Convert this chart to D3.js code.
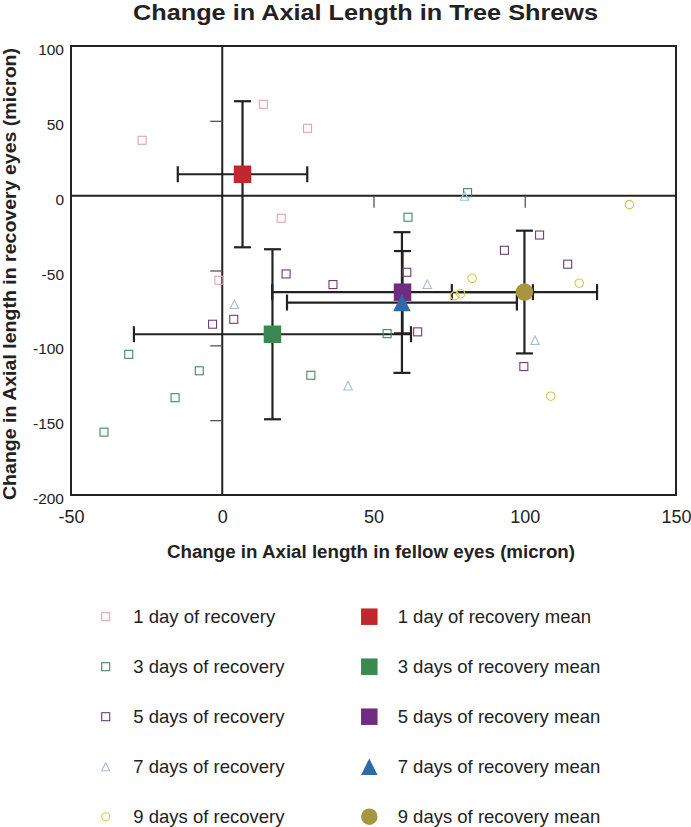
<!DOCTYPE html>
<html><head><meta charset="utf-8">
<script src="https://cdn.jsdelivr.net/npm/d3@7"></script>
<style>body{margin:0;background:#fff} svg{display:block}</style>
</head><body>
<svg id="chart" width="691" height="827"></svg>
<script>
// ---------- data ----------
const seriesNames = ["1 day of recovery","3 days of recovery","5 days of recovery","7 days of recovery","9 days of recovery"];
const meanNames = ["1 day of recovery mean","3 days of recovery mean","5 days of recovery mean","7 days of recovery mean","9 days of recovery mean"];
const day1X = [13.6, 28.2, -26.5, 19.5, -1.1];
const day1Y = [61, 45, 37, -15.1, -56.5];
const day3X = [81.1, 61.4, -30.9, -7.6, -15.6, -39.1, 29.3, 54.5];
const day3Y = [2, -14.4, -106, -117, -135, -158, -120, -92.2];
const day5X = [21.1, 36.6, -3.2, 3.8, 61, 64.6, 104.9, 93.3, 114.2, 99.7];
const day5Y = [-52.3, -59.4, -85.9, -82.6, -51.2, -91, -26.3, -36.5, -45.8, -114.2];
const day7X = [80.1, 4, 41.6, 67.8, 103.4];
const day7Y = [-0.2, -72.6, -127, -59.2, -96.6];
const day9X = [134.6, 82.6, 118, 76.9, 78.8, 108.6];
const day9Y = [-6, -55.2, -58.5, -66.8, -65.5, -134];
const meanX = [6.7, 16.6, 59.6, 59.4, 99.9];
const meanY = [14.3, -92.6, -64.5, -71.4, -64.4];
const errX = [21.4, 45.8, 43.1, 38.0, 24.0];
const errY = [48.8, 56.8, 27.5, 47.0, 41.0];
const xTicks = [-50, 0, 50, 100, 150];
const yTicks = [100, 50, 0, -50, -100, -150, -200];
const innerYTicks = [50, -50, -100, -150];
const innerXTicks = [50, 100];

// ---------- styles ----------
const pointColors = ["#e2a4ae", "#3f8a5c", "#6c3d7c", "#a9badb", "#d6c94c"];
const meanColors  = ["#c1272d", "#3a8a4f", "#6f2c80", "#2c6aa8", "#a89540"];
const shapes = ["square", "square", "square", "triangle", "circle"];
const seriesX = [day1X, day3X, day5X, day7X, day9X];
const seriesY = [day1Y, day3Y, day5Y, day7Y, day9Y];
const font = "Liberation Sans, Arial, Helvetica, sans-serif";
const fmt = d => String(d);

const svg = d3.select("#chart");
svg.append("rect").attr("width", 691).attr("height", 827).attr("fill", "#fff");

const x = d3.scaleLinear().domain([-50, 150]).range([71, 676]);
const y = d3.scaleLinear().domain([-200, 100]).range([495, 46]);
const ink = "#222";

function marker(g, shape, size, fill, stroke, sw) {
  const h = size / 2;
  let el;
  if (shape === "square") {
    el = g.append("rect").attr("x", -h).attr("y", -h).attr("width", size).attr("height", size);
  } else if (shape === "circle") {
    el = g.append("circle").attr("r", h);
  } else {
    el = g.append("path").attr("d", `M0,${-h}L${h},${h}L${-h},${h}Z`);
  }
  el.attr("fill", fill).attr("stroke", stroke).attr("stroke-width", sw);
  return el;
}

// frame
svg.append("rect").attr("x", x(-50)).attr("y", y(100))
  .attr("width", x(150) - x(-50)).attr("height", y(-200) - y(100))
  .attr("fill", "none").attr("stroke", ink).attr("stroke-width", 2);

// zero lines
svg.append("line").attr("x1", x(0)).attr("x2", x(0)).attr("y1", y(100)).attr("y2", y(-200))
  .attr("stroke", ink).attr("stroke-width", 2);
svg.append("line").attr("x1", x(-50)).attr("x2", x(150)).attr("y1", y(0)).attr("y2", y(0))
  .attr("stroke", ink).attr("stroke-width", 2);

// inner ticks on the zero lines
const innerY = svg.append("g").attr("transform", `translate(${x(0)},0)`)
  .call(d3.axisLeft(y).tickValues(innerYTicks).tickSize(12).tickFormat(""));
innerY.select(".domain").remove();
innerY.selectAll("line").attr("stroke", "#555").attr("stroke-width", 1.3);
const innerX = svg.append("g").attr("transform", `translate(0,${y(0)})`)
  .call(d3.axisBottom(x).tickValues(innerXTicks).tickSize(12).tickFormat(""));
innerX.select(".domain").remove();
innerX.selectAll("line").attr("stroke", "#555").attr("stroke-width", 1.3);

// tick labels
const yAx = svg.append("g").attr("transform", `translate(${x(-50)},0)`)
  .call(d3.axisLeft(y).tickValues(yTicks).tickSize(0).tickPadding(7).tickFormat(fmt));
yAx.select(".domain").remove();
yAx.selectAll("text").attr("font-family", font)
  .attr("font-size", 15.5).attr("fill", ink).attr("dy", "0.55em");
const xAx = svg.append("g").attr("transform", `translate(0,${y(-200)})`)
  .call(d3.axisBottom(x).tickValues(xTicks).tickSize(0).tickPadding(15).tickFormat(fmt));
xAx.select(".domain").remove();
xAx.selectAll("text").attr("font-family", font)
  .attr("font-size", 18).attr("fill", ink);

// titles
svg.append("text").attr("x", 365.5).attr("y", 20).attr("text-anchor", "middle")
  .attr("font-family", font).attr("font-weight", "bold")
  .attr("font-size", 22).attr("fill", ink)
  .attr("textLength", 465).attr("lengthAdjust", "spacingAndGlyphs")
  .text("Change in Axial Length in Tree Shrews");
svg.append("text").attr("x", 371).attr("y", 558).attr("text-anchor", "middle")
  .attr("font-family", font).attr("font-weight", "bold")
  .attr("font-size", 18.7).attr("fill", ink)
  .attr("textLength", 408).attr("lengthAdjust", "spacingAndGlyphs")
  .text("Change in Axial length in fellow eyes (micron)");
svg.append("text").attr("transform", "translate(16,274) rotate(-90)").attr("text-anchor", "middle")
  .attr("font-family", font).attr("font-weight", "bold")
  .attr("font-size", 18).attr("fill", ink)
  .attr("textLength", 452).attr("lengthAdjust", "spacingAndGlyphs")
  .text("Change in Axial length in recovery eyes (micron)");

// error bars
const eb = svg.append("g").attr("stroke", ink).attr("stroke-width", 2.2).attr("fill", "none");
meanX.forEach((mx, i) => {
  const my = meanY[i];
  const cx = x(mx), cy = y(my);
  const x0 = x(mx - errX[i]), x1 = x(mx + errX[i]);
  const y0 = y(my + errY[i]), y1 = y(my - errY[i]);
  eb.append("line").attr("x1", x0).attr("x2", x1).attr("y1", cy).attr("y2", cy);
  eb.append("line").attr("x1", x0).attr("x2", x0).attr("y1", cy - 8).attr("y2", cy + 8);
  eb.append("line").attr("x1", x1).attr("x2", x1).attr("y1", cy - 8).attr("y2", cy + 8);
  eb.append("line").attr("x1", cx).attr("x2", cx).attr("y1", y0).attr("y2", y1);
  eb.append("line").attr("x1", cx - 8.5).attr("x2", cx + 8.5).attr("y1", y0).attr("y2", y0);
  eb.append("line").attr("x1", cx - 8.5).attr("x2", cx + 8.5).attr("y1", y1).attr("y2", y1);
});

// individual points
seriesX.forEach((xs, s) => {
  const g = svg.append("g");
  xs.forEach((vx, k) => {
    const m = g.append("g").attr("transform", `translate(${x(vx)},${y(seriesY[s][k])})`);
    marker(m, shapes[s], shapes[s] === "square" ? 8 : 8.5, "none", pointColors[s], 1.1);
  });
});

// means
meanX.forEach((mx, i) => {
  const m = svg.append("g").attr("transform", `translate(${x(mx)},${y(meanY[i])})`);
  marker(m, shapes[i], 17.5, meanColors[i], "none", 0);
});

// legend
const legRows = [616.7, 666.7, 716.7, 766.7, 816.7];
seriesNames.forEach((name, i) => {
  const g = svg.append("g").attr("transform", `translate(105.7,${legRows[i]})`);
  marker(g, shapes[i], 8, "none", pointColors[i], 1.1);
  svg.append("text").attr("x", 133.3).attr("y", legRows[i]).attr("dy", "0.35em")
    .attr("font-family", font)
    .attr("font-size", 18.5).attr("fill", ink).text(name);
});
meanNames.forEach((name, i) => {
  const g = svg.append("g").attr("transform", `translate(369.3,${legRows[i]})`);
  marker(g, shapes[i], 16.5, meanColors[i], "none", 0);
  svg.append("text").attr("x", 397.7).attr("y", legRows[i]).attr("dy", "0.35em")
    .attr("font-family", font)
    .attr("font-size", 18.5).attr("fill", ink).text(name);
});
</script>
</body></html>
